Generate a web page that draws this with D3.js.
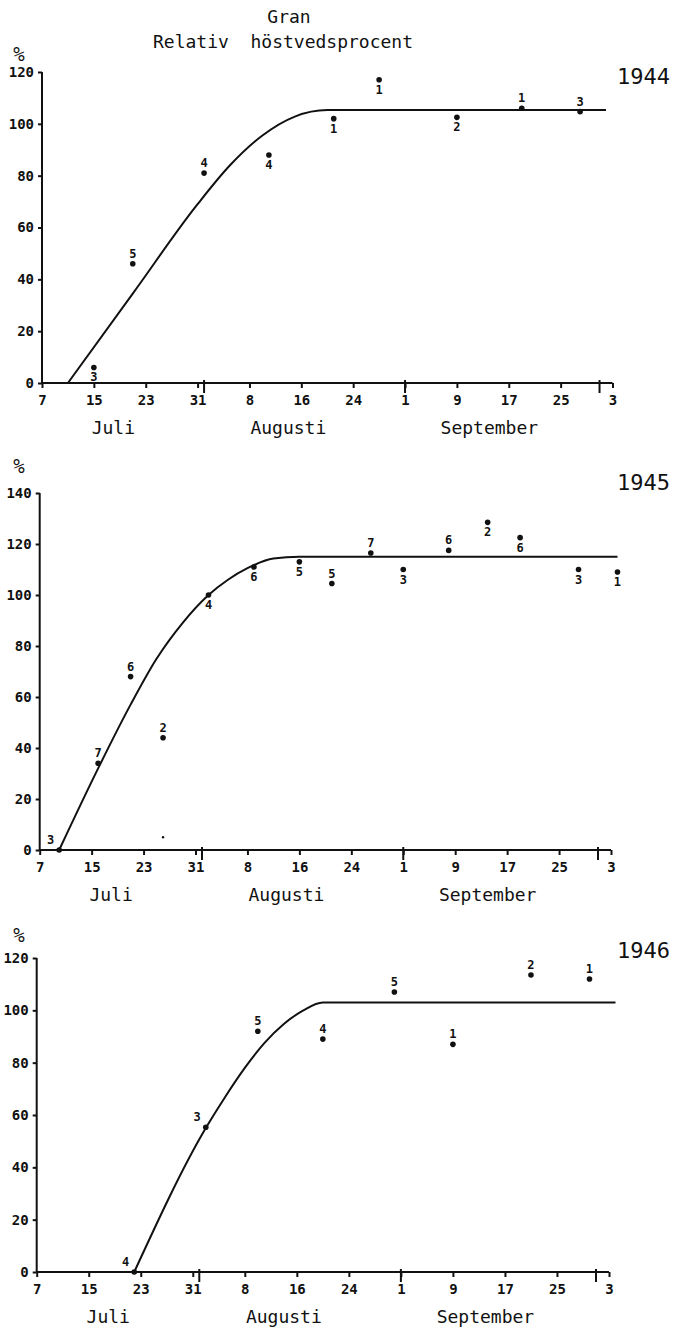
<!DOCTYPE html>
<html>
<head>
<meta charset="utf-8">
<script src="https://cdn.jsdelivr.net/npm/d3@7"></script>
<style>
  body { margin: 0; background: #fff; }
  text { font-family: "DejaVu Sans Mono", monospace; fill: #111; }
</style>
</head>
<body>
<svg id="chart" width="674" height="1333"></svg>
<script>
// Gran - relativ höstvedsprocent, 1944-1946

var years = [1944, 1945, 1946];
var yMax = [120, 140, 120];
var months = ["Juli", "Augusti", "September"];
var monthMid = ["07-18", "08-14", "09-14"];   // where the month names sit

// observations: [date, percent, tree no., label side]
var obs1944 = [
  ["07-15", 6, "3", "below"],
  ["07-21", 46, "5", "above"],
  ["08-01", 81, "4", "above"],
  ["08-11", 88, "4", "below"],
  ["08-21", 102, "1", "below"],
  ["08-28", 117, "1", "below"],
  ["09-09", 102.5, "2", "below"],
  ["09-19", 106, "1", "above"],
  ["09-28", 104.7, "3", "above"]
];
var obs1945 = [
  ["07-10", 0, "3", "left"],
  ["07-16", 34, "7", "above"],
  ["07-21", 68, "6", "above"],
  ["07-26", 44, "2", "above"],
  ["08-02", 100, "4", "below"],
  ["08-09", 111, "6", "below"],
  ["08-16", 113, "5", "below"],
  ["08-21", 104.5, "5", "above"],
  ["08-27", 116.5, "7", "above"],
  ["09-01", 110, "3", "below"],
  ["09-08", 117.5, "6", "above"],
  ["09-14", 128.5, "2", "below"],
  ["09-19", 122.5, "6", "below"],
  ["09-28", 110, "3", "below"],
  ["10-04", 109, "1", "below"]
];
var obs1946 = [
  ["07-22", 0, "4", "left"],
  ["08-02", 55.3, "3", "left"],
  ["08-10", 92, "5", "above"],
  ["08-20", 89, "4", "above"],
  ["08-31", 107, "5", "above"],
  ["09-09", 87, "1", "above"],
  ["09-21", 113.5, "2", "above"],
  ["09-30", 112, "1", "above"]
];
// stray small dot in 1945
var speck1945 = [["07-26", 5]];

// fitted curves: [date, percent]
var curve1944 = [["07-11", 0], ["07-21", 34.5], ["07-31", 69], ["08-05", 84], ["08-10", 95.5],
                 ["08-15", 102.8], ["08-20", 105.3], ["10-02", 105.3]];
var curve1945 = [["07-10", 0], ["07-16", 32], ["07-21", 57], ["07-25", 75], ["07-29", 89],
                 ["08-02", 100], ["08-05", 106], ["08-08", 110.5], ["08-12", 114.3], ["08-16", 115],
                 ["10-04", 115]];
var curve1946 = [["07-22", 0], ["08-02", 55], ["08-05", 67], ["08-08", 78], ["08-11", 87.5],
                 ["08-14", 94.8], ["08-17", 100], ["08-20", 103], ["10-04", 103]];

var observations = [obs1944, obs1945, obs1946];
var curves = [curve1944, curve1945, curve1946];

// panel placement on the page
var layout = [
  { left: 42, right: 612.5, top: 72, bottom: 383, yearY: 84, pctY: 61 },
  { left: 39.7, right: 611, top: 493, bottom: 850, yearY: 490, pctY: 473 },
  { left: 36.7, right: 609, top: 958, bottom: 1272, yearY: 958, pctY: 942 }
];

var svg = d3.select("#chart");

// title
svg.append("text").attr("x", 289).attr("y", 23).attr("text-anchor", "middle")
  .style("font-size", "18px").text("Gran");
svg.append("text").attr("x", 283).attr("y", 48).attr("text-anchor", "middle")
  .style("font-size", "18px").attr("xml:space", "preserve").text("Relativ  höstvedsprocent");

years.forEach(function(yr, i) {
  var L = layout[i];
  var parse = function(md) { return d3.timeParse("%Y-%m-%d")(yr + "-" + md); };
  var start = parse("07-07"), end = parse("10-03");

  var x = d3.scaleTime().domain([start, end]).range([L.left, L.right]);
  var y = d3.scaleLinear().domain([0, yMax[i]]).range([L.bottom, L.top]);

  var g = svg.append("g");

  // y axis
  var yAxis = d3.axisLeft(y).tickValues(d3.range(0, yMax[i] + 1, 20))
    .tickSize(4).tickPadding(4);
  var ya = g.append("g").attr("transform", "translate(" + L.left + ",0)").call(yAxis);
  ya.select(".domain").attr("d", "M0," + L.top + "V" + L.bottom);
  ya.selectAll("path, line").attr("stroke", "#111").attr("stroke-width", 2);
  ya.selectAll("text").style("font-size", "14px").style("font-weight", "bold")
    .style("font-family", "'DejaVu Sans Mono', monospace");

  // x axis, ticks every 8 days from 7 July
  var xTicks = d3.timeDay.range(start, d3.timeDay.offset(end, 1), 8);
  var xAxis = d3.axisBottom(x).tickValues(xTicks).tickFormat(d3.timeFormat("%-d"))
    .tickSize(5).tickPadding(7);
  var xa = g.append("g").attr("transform", "translate(0," + L.bottom + ")").call(xAxis);
  xa.select(".domain").attr("d", "M" + L.left + ",0H" + L.right);
  xa.selectAll("path, line").attr("stroke", "#111").attr("stroke-width", 2);
  xa.selectAll("text").style("font-size", "14px").style("font-weight", "bold")
    .style("font-family", "'DejaVu Sans Mono', monospace");

  // longer marks at the start of each month
  var monthStarts = d3.timeMonth.range(d3.timeDay.offset(start, 1), end);
  g.selectAll(".mstart").data(monthStarts).join("line")
    .attr("x1", function(d) { return x(d); }).attr("x2", function(d) { return x(d); })
    .attr("y1", L.bottom - 3).attr("y2", L.bottom + 10)
    .attr("stroke", "#111").attr("stroke-width", 2);

  // month names
  g.selectAll(".month").data(months).join("text")
    .attr("x", function(d, k) { return x(parse(monthMid[k])); })
    .attr("y", L.bottom + 51)
    .attr("text-anchor", "middle").style("font-size", "18px")
    .text(function(d) { return d; });

  // % and year
  g.append("text").attr("x", 19).attr("y", L.pctY).attr("text-anchor", "middle")
    .style("font-size", "19px").text("%");
  g.append("text").attr("x", 670).attr("y", L.yearY).attr("text-anchor", "end")
    .style("font-size", "22px").text(yr);

  // fitted curve
  var line = d3.line()
    .x(function(d) { return x(parse(d[0])); })
    .y(function(d) { return y(d[1]); })
    .curve(d3.curveMonotoneX);
  g.append("path").datum(curves[i]).attr("d", line)
    .attr("fill", "none").attr("stroke", "#111").attr("stroke-width", 2);

  // observations
  g.selectAll(".pt").data(observations[i]).join("circle")
    .attr("cx", function(d) { return x(parse(d[0])); })
    .attr("cy", function(d) { return y(d[1]); })
    .attr("r", 2.8).attr("fill", "#111");

  g.selectAll(".lab").data(observations[i]).join("text")
    .attr("x", function(d) { return x(parse(d[0])) + (d[3] === "left" ? -5 : 0); })
    .attr("y", function(d) {
      var cy = y(d[1]);
      if (d[3] === "below") return cy + 14;
      return cy - 6;
    })
    .attr("text-anchor", function(d) { return d[3] === "left" ? "end" : "middle"; })
    .style("font-size", "12px").style("font-weight", "bold")
    .text(function(d) { return d[2]; });

  if (yr === 1945) {
    g.selectAll(".speck").data(speck1945).join("circle")
      .attr("cx", function(d) { return x(parse(d[0])); })
      .attr("cy", function(d) { return y(d[1]); })
      .attr("r", 1.2).attr("fill", "#111");
  }
});
</script>
</body>
</html>
